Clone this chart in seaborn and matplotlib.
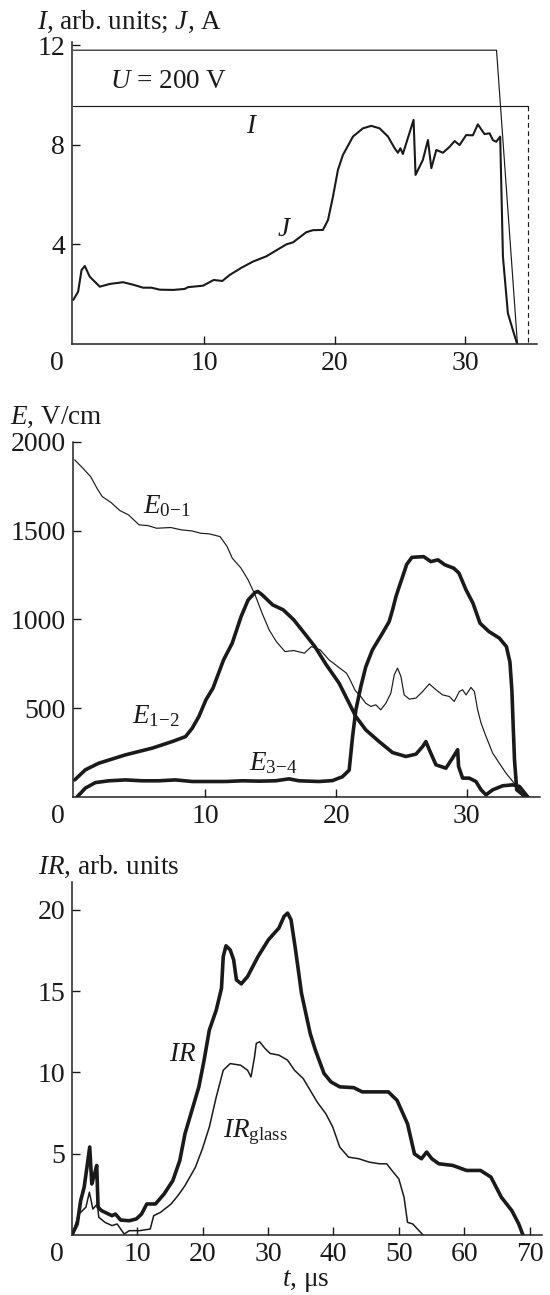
import matplotlib
matplotlib.use("Agg")
import matplotlib.pyplot as plt
import pandas as pd
import seaborn as sns

# ---------------- panel 1: current J and pulse envelopes ----------------
j_t = [0, 0.37, 0.63, 0.88, 1.26, 2.03, 2.79, 3.81, 4.58, 5.34, 5.98, 6.62, 7.64,
       8.53, 8.78, 9.93, 10.75, 11.41, 11.97, 12.87, 13.76, 14.78, 15.80, 16.31,
       16.82, 17.84, 18.35, 19.11, 19.50, 19.88, 20.26, 20.64, 21.41, 22.17, 22.81,
       23.45, 24.09, 24.60, 24.85, 25.04, 25.23, 26.05, 26.20, 26.76, 27.15, 27.41,
       27.79, 28.30, 28.81, 29.19, 29.57, 30.08, 30.59, 30.97, 31.48, 31.87, 32.12,
       32.38, 32.68, 32.89, 33.27, 33.65, 33.96]
j_v = [1.77, 2.10, 2.97, 3.13, 2.70, 2.30, 2.41, 2.48, 2.38, 2.26, 2.26, 2.18, 2.17,
       2.21, 2.28, 2.34, 2.57, 2.53, 2.77, 3.06, 3.31, 3.52, 3.84, 4.00,
       4.08, 4.49, 4.57, 4.58, 4.98, 5.92, 6.99, 7.59, 8.33, 8.66, 8.76,
       8.66, 8.33, 7.86, 7.68, 7.86, 7.63, 9.00, 6.79, 7.39, 8.19, 7.06,
       7.79, 7.68, 7.92, 8.15, 7.99, 8.39, 8.38, 8.82, 8.43, 8.46, 8.19,
       8.12, 8.33, 3.51, 1.23, 0.56, 0.03]

u_t = [0, 32.4, 34.0]
u_v = [11.8, 11.8, 0]

i_t = [0, 34.8]
i_v = [9.56, 9.56]
i_end_t = [34.8, 34.8]
i_end_v = [9.56, 0]

# ---------------- panel 2: field strengths ----------------
e01_t = [0, 0.63, 1.22, 1.70, 2.11, 2.78, 3.45, 4.12, 4.93, 5.60, 6.27, 7.35, 8.16,
         8.96, 9.64, 10.31, 11.12, 11.66, 12.06, 12.73, 13.27, 13.80, 14.34, 14.88,
         15.42, 16.09, 16.76, 17.57, 18.11, 18.78, 19.45, 20.12, 20.80, 21.07, 21.46,
         21.89, 22.27, 22.66, 23.04, 23.42, 23.81, 24.19, 24.45, 24.70, 24.96, 25.21,
         25.60, 26.11, 26.62, 27.13, 27.64, 28.15, 28.66, 29.04, 29.43, 29.68, 29.94,
         30.32, 30.58, 30.83, 31.09, 31.47, 31.98, 32.49, 33.00, 33.52, 34.03, 34.30]
e01_v = [1899, 1852, 1805, 1740, 1692, 1659, 1614, 1589, 1533, 1529, 1514, 1518, 1505,
         1499, 1486, 1482, 1467, 1411, 1345, 1289, 1223, 1139, 1035, 941,
         876, 819, 825, 810, 847, 829, 773, 735, 697, 660, 600,
         566, 528, 510, 519, 491, 528, 585, 688, 726, 679, 575,
         551, 557, 594, 637, 604, 575, 566, 538, 594, 604, 575,
         617, 594, 491, 416, 341, 247, 190, 134, 87, 40, 0]

e12_t = [0, 0.82, 1.84, 3.88, 5.93, 7.46, 8.48, 8.99, 9.50, 10.04, 10.58, 11.39,
         12.05, 12.73, 13.27, 13.80, 14.00, 14.34, 15.15, 15.96, 16.76, 17.57, 18.38,
         19.20, 20.23, 21.51, 22.27, 23.29, 24.32, 25.34, 26.11, 26.62, 26.87, 27.13,
         27.64, 28.40, 28.91, 29.30, 29.37, 29.68, 30.19, 30.70, 31.09, 31.47, 31.98,
         32.75, 33.52, 34.03, 34.67]
e12_v = [96, 153, 190, 237, 275, 312, 340, 387, 453, 547, 613, 772,
         866, 1016, 1110, 1152, 1158, 1139, 1082, 1054, 998, 923, 847,
         750, 641, 453, 378, 312, 250, 228, 241, 284, 312, 266,
         181, 162, 219, 266, 172, 106, 106, 87, 40, 12, 40,
         63, 68, 59, 0]

e34_t = [0.18, 0.82, 1.59, 2.61, 3.88, 5.16, 6.44, 7.71, 8.99, 10.27, 11.54, 12.82,
         14.10, 15.37, 16.39, 17.16, 18.70, 19.72, 20.49, 21.00, 21.13, 21.26, 21.51,
         21.89, 22.27, 22.78, 23.55, 24.06, 24.32, 24.58, 24.83, 25.09, 25.40, 25.80,
         26.70, 27.25, 27.79, 28.32, 29.00, 29.40, 29.94, 30.47, 31.01, 31.69, 32.49,
         33.03, 33.30, 33.45, 33.55, 33.65, 33.82, 34.50]
e34_v = [0, 50, 81, 91, 96, 91, 91, 96, 87, 87, 87, 91,
         89, 91, 102, 91, 87, 92, 114, 151, 245, 339, 489,
         621, 733, 829, 923, 988, 1054, 1129, 1185, 1241, 1310, 1350,
         1354, 1326, 1336, 1308, 1289, 1261, 1167, 1092, 979, 932, 895,
         847, 760, 600, 400, 209, 40, 0]

# ---------------- panel 3: infrared emission ----------------
ir_t = [0, 0.80, 1.33, 1.86, 2.29, 2.71, 3.03, 3.46, 3.78, 3.99, 4.52, 5.59, 6.12,
        6.65, 7.45, 8.78, 9.84, 10.64, 11.44, 12.77, 14.10, 15.43, 16.49, 17.29,
        18.35, 19.41, 20.21, 21.01, 22.07, 22.87, 23.14, 23.56, 24.20, 24.73, 25.16,
        25.90, 26.86, 28.46, 30.05, 31.65, 32.45, 32.98, 33.51, 34.20, 35.11, 36.44,
        37.23, 38.56, 39.63, 40.96, 43.09, 44.41, 46.54, 48.40, 49.73, 51.33, 52.39,
        53.46, 54.26, 55.05, 56.12, 58.24, 60.37, 62.50, 64.10, 65.69, 67.29, 68.35,
        68.99]
ir_v = [0, 0.68, 2.12, 2.94, 4.17, 5.41, 3.14, 3.76, 4.28, 1.71, 1.50, 1.29, 1.19,
        1.29, 0.92, 0.88, 0.99, 1.29, 1.91, 1.91, 2.53, 3.35, 4.58, 6.23,
        7.67, 9.11, 10.75, 12.60, 13.83, 15.17, 17.12, 17.78, 17.53, 16.92, 15.68,
        15.44, 15.89, 17.12, 18.15, 18.87, 19.59, 19.79, 19.38, 17.53, 14.86, 12.39,
        11.37, 9.93, 9.41, 9.11, 9.06, 8.80, 8.80, 8.80, 8.28, 6.84, 4.99,
        4.69, 5.10, 4.69, 4.38, 4.28, 3.97, 3.97, 3.56, 2.32, 1.50, 0.68,
        0]

irg_t = [0, 1.06, 2.13, 2.66, 3.19, 3.88, 4.10, 5.05, 6.12, 6.91, 7.98, 8.78, 10.37,
         11.97, 12.50, 13.56, 15.16, 16.22, 17.29, 18.88, 19.95, 21.01, 22.07, 23.14,
         24.20, 25.80, 26.86, 27.39, 27.93, 28.19, 28.72, 29.52, 30.32, 31.65, 32.98,
         34.04, 35.37, 36.44, 37.50, 38.83, 39.89, 40.96, 42.29, 43.88, 45.48, 47.07,
         48.14, 48.94, 50.00, 50.80, 51.33, 52.13, 53.72]
irg_v = [0, 1.29, 1.71, 2.63, 1.60, 1.91, 1.09, 0.78, 0.58, 0.68, 0.06, 0.27, 0.27,
         0.37, 1.19, 1.40, 1.91, 2.43, 3.04, 4.17, 5.30, 6.64, 8.49, 10.13,
         10.54, 10.44, 10.13, 9.72, 10.96, 11.78, 11.88, 11.47, 11.16, 11.06, 10.75,
         10.13, 9.62, 8.90, 8.18, 7.46, 6.64, 5.41, 4.79, 4.69, 4.48, 4.38,
         4.38, 3.97, 3.45, 2.32, 0.78, 0.68, 0]

top_yticks = [4, 8, 12]
mid_yticks = [500, 1000, 1500, 2000]
bot_yticks = [5, 10, 15, 20]
short_xticks = [10, 20, 30]
long_xticks = [10, 20, 30, 40, 50, 60, 70]

sns.set_style("ticks")
plt.rcParams.update({
    "font.family": ["Liberation Serif", "DejaVu Serif"],
    "mathtext.fontset": "custom",
    "mathtext.rm": "Liberation Serif",
    "mathtext.it": "Liberation Serif:italic",
    "mathtext.bf": "Liberation Serif:bold",
    "font.size": 19.5,
    "axes.linewidth": 1.1,
    "axes.edgecolor": "#222222",
    "lines.solid_joinstyle": "round",
    "lines.solid_capstyle": "round",
})

TICK_FS = 20
LABEL_FS = 19.5
INK = "#1a1a1a"
THIN, MID, THICK = 0.85, 1.5, 2.6

fig = plt.figure(figsize=(5.5, 12.95), dpi=100)
ax1 = fig.add_axes([0.1309, 0.7344, 0.8455, 0.2332])
ax2 = fig.add_axes([0.1327, 0.3846, 0.8491, 0.2741])
ax3 = fig.add_axes([0.1309, 0.0463, 0.8545, 0.2726])


def line(ax, t, v, lw, ls="-"):
    df = pd.DataFrame({"t": t, "v": v})
    sns.lineplot(data=df, x="t", y="v", ax=ax, sort=False, estimator=None,
                 color=INK, linewidth=lw, linestyle=ls, legend=False)


def style(ax, xticks, yticks, xlim, ylim):
    ax.set_xlim(*xlim)
    ax.set_ylim(*ylim)
    ax.set_xticks(xticks)
    ax.set_yticks(yticks)
    ax.set_xlabel("")
    ax.set_ylabel("")
    sns.despine(ax=ax)
    ax.tick_params(direction="in", length=6, width=1.0, labelsize=TICK_FS,
                   colors=INK)
    ax.tick_params(axis="x", pad=5)
    ax.tick_params(axis="y", pad=5)
    # origin label sits at the lower-left corner
    ax.annotate("0", xy=(0, 0), xycoords="axes fraction", xytext=(-11, -5),
                textcoords="offset points", ha="center", va="top",
                fontsize=TICK_FS, color=INK)


# panel 1
line(ax1, u_t, u_v, THIN)
line(ax1, i_t, i_v, THIN)
line(ax1, i_end_t, i_end_v, THIN, ls=(0, (4, 3)))
line(ax1, j_t, j_v, MID)
style(ax1, short_xticks, top_yticks, (-0.1, 35.5), (0, 12.13))
ax1.text(2.8, 10.55, r"$U$ = 200 V", fontsize=LABEL_FS, va="center", ha="left", color=INK)
ax1.text(13.65, 8.75, r"$I$", fontsize=LABEL_FS, va="center", ha="center", color=INK)
ax1.text(16.2, 4.6, r"$J$", fontsize=LABEL_FS, va="center", ha="center", color=INK)
fig.text(37 / 550, 1 - 22 / 1295, r"$I$, arb. units; $J$, A", fontsize=LABEL_FS,
         ha="left", va="center", color=INK)

# panel 2
line(ax2, e01_t, e01_v, THIN)
line(ax2, e12_t, e12_v, THICK)
line(ax2, e34_t, e34_v, THICK)
style(ax2, short_xticks, mid_yticks, (-0.13, 35.6), (0, 2000))
ax2.text(5.2, 1640, r"$E_{0{-}1}$", fontsize=LABEL_FS, va="center", ha="left", color=INK)
ax2.text(4.37, 455, r"$E_{1{-}2}$", fontsize=LABEL_FS, va="center", ha="left", color=INK)
ax2.text(13.3, 190, r"$E_{3{-}4}$", fontsize=LABEL_FS, va="center", ha="left", color=INK)
fig.text(10 / 550, 1 - 417 / 1295, r"$E$, V/cm", fontsize=LABEL_FS,
         ha="left", va="center", color=INK)

# panel 3
line(ax3, irg_t, irg_v, THIN + 0.25)
line(ax3, ir_t, ir_v, THICK)
style(ax3, long_xticks, bot_yticks, (0, 71.9), (0, 21.7))
ax3.text(17.0, 11.1, r"$IR$", fontsize=LABEL_FS, va="center", ha="center", color=INK)
ax3.text(23.1, 6.3, r"$IR_{\mathrm{glass}}$", fontsize=LABEL_FS, va="center", ha="left",
         color=INK)
fig.text(38 / 550, 1 - 867 / 1295, r"$IR$, arb. units", fontsize=LABEL_FS,
         ha="left", va="center", color=INK)
fig.text(306 / 550, 1 - 1281 / 1295, r"$t$, μs", fontsize=LABEL_FS,
         ha="center", va="center", color=INK)

fig.savefig("out.png", dpi=100, facecolor="white")
